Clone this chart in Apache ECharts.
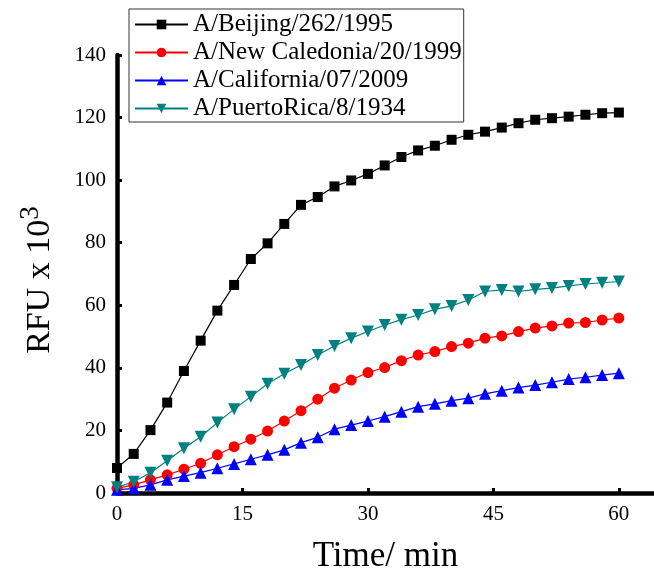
<!DOCTYPE html>
<html>
<head>
<meta charset="utf-8">
<script src="https://cdn.jsdelivr.net/npm/echarts@6/dist/echarts.min.js"></script>
<style>html,body{margin:0;padding:0;background:#fff}#c{width:654px;height:571px}</style>
</head>
<body>
<div id="c"></div>
<script>
const time = [0,2,4,6,8,10,12,14,16,18,20,22,24,26,28,30,32,34,36,38,40,42,44,46,48,50,52,54,56,58,60];
const beijing = [8,12.5,20.1,28.9,39,48.7,58.3,66.5,74.8,79.8,86,92.1,94.6,98,99.9,102,104.7,107.4,109.5,111,112.9,114.5,115.5,116.8,118.2,119.3,119.8,120.3,120.9,121.4,121.6];
const newCaledonia = [1.5,2.6,4.2,5.8,7.6,9.5,12.2,14.8,17.2,19.8,23,26.3,30,33.5,36.1,38.5,40.1,42.3,44.1,45.2,46.8,47.9,49.5,50.2,51.6,52.7,53.4,54.3,54.5,55.3,55.9];
const california = [1,1.5,2.6,4.2,5.4,6.5,7.9,9.3,10.8,12.2,13.8,16.1,17.8,20.4,21.7,23,24.4,26,27.6,28.5,29.5,30.3,31.7,32.7,33.7,34.5,35.4,36.4,37,37.7,38.3];
const puertoRico = [1.8,3.6,6.5,10.3,14.3,18,22.5,26.8,30.8,34.9,38.1,40.9,44.1,47,49.5,51.6,53.7,55.4,56.9,58.7,59.8,61.7,64.4,64.9,64.4,65.1,65.5,66.2,66.8,67.2,67.6];
const seriesNames = ['A/Beijing/262/1995','A/New Caledonia/20/1999','A/California/07/2009','A/PuertoRica/8/1934'];
const xTicks = [0,15,30,45,60];

const FONT = 'Liberation Serif';
const pairs = arr => time.map((t,i)=>[t,arr[i]]);

const chart = echarts.init(document.getElementById('c'), null, {renderer:'canvas'});
const mk = (name, data, color, symbol, size, rot) => ({
  name, type:'line', data: pairs(data), symbol, symbolSize:size, symbolRotate: rot||0,
  lineStyle:{color, width:1.2}, itemStyle:{color}, showSymbol:true, animation:false
});
chart.setOption({
  animation:false,
  backgroundColor:'#fff',
  grid:{left:117, right:0, top:55, bottom:78, containLabel:false, outerBoundsMode:'none'},
  legend:{
    orient:'vertical', left:129, top:9,
    borderColor:'#333', borderWidth:1, padding:[3,2,1,5],
    itemWidth:53, itemHeight:12, itemGap:3,
    textStyle:{fontFamily:FONT, fontSize:25, lineHeight:25, color:'#000'},
    data: seriesNames
  },
  xAxis:{
    type:'value', min:0, max:64.2, interval:15,
    name:'Time/ min', nameLocation:'middle', nameGap:46,
    nameTextStyle:{fontFamily:FONT, fontSize:35, color:'#000'},
    splitLine:{show:false},
    axisLine:{lineStyle:{color:'#000', width:4.5}},
    axisTick:{inside:true, length:5, lineStyle:{color:'#000', width:3}, customValues:xTicks},
    axisLabel:{fontFamily:FONT, fontSize:21, color:'#000', margin:11, customValues:xTicks}
  },
  yAxis:{
    type:'value', min:0, max:140, interval:20,
    name:'RFU x 10{sup|3}', nameLocation:'middle', nameGap:53,
    nameTextStyle:{fontFamily:FONT, fontSize:34, color:'#000', padding:[0,12,0,0],
      rich:{sup:{fontFamily:FONT, fontSize:27, color:'#000', verticalAlign:'top', padding:[0,0,20,0]}}},
    splitLine:{show:false},
    axisLine:{lineStyle:{color:'#000', width:4.5}},
    axisTick:{inside:true, length:5, lineStyle:{color:'#000', width:3}},
    axisLabel:{fontFamily:FONT, fontSize:21, color:'#000', margin:11}
  },
  series:[
    mk(seriesNames[0], beijing, '#000000', 'rect', 10),
    mk(seriesNames[1], newCaledonia, '#ff0000', 'circle', 11),
    mk(seriesNames[2], california, '#0000ff', 'triangle', 12),
    mk(seriesNames[3], puertoRico, '#008080', 'triangle', 12, 180)
  ]
});
</script>
</body>
</html>
